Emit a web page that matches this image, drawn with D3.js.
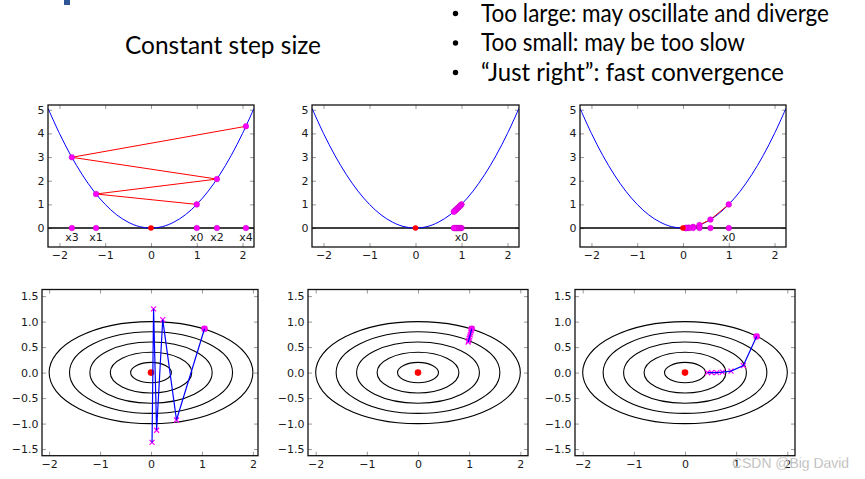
<!DOCTYPE html>
<html><head><meta charset="utf-8">
<script src="https://cdn.jsdelivr.net/npm/d3@7"></script>
<style>html,body{margin:0;padding:0;background:#fff;}svg{display:block;}</style>
</head><body>
<script>
// ---------- data ----------
const titleText = "Constant step size";
const bullets = ["Too large: may oscillate and diverge", "Too small: may be too slow", "\u201CJust right\u201D: fast convergence"];
const watermark = "CSDN @Big David";

// parabola f(x)=x^2 sample points
const curveX = [-2.25,-2,-1.75,-1.5,-1.25,-1,-0.75,-0.5,-0.25,0,0.25,0.5,0.75,1,1.25,1.5,1.75,2,2.25];
const curveY = [5.06,4,3.06,2.25,1.56,1,0.56,0.25,0.06,0,0.06,0.25,0.56,1,1.56,2.25,3.06,4,5.06];

const topXTicks = [-2,-1,0,1,2];
const topYTicks = [0,1,2,3,4,5];
const botXTicks = [-2,-1,0,1,2];
const botYTicks = [-1.5,-1.0,-0.5,0.0,0.5,1.0,1.5];

// 1-D gradient descent iterates (top row)
const largeX = [1, -1.2, 1.44, -1.728, 2.074];
const largeY = [1, 1.44, 2.07, 2.99, 4.30];
const largeLabels = ["x0","x1","x2","x3","x4"];
const smallX = [1, 0.98, 0.96, 0.94, 0.92, 0.90, 0.885, 0.867, 0.85, 0.833];
const smallY = [1, 0.96, 0.92, 0.88, 0.85, 0.81, 0.78, 0.75, 0.72, 0.69];
const smallLabels = ["x0"];
const rightX = [1, 0.6, 0.36, 0.22, 0.13, 0.08, 0.05];
const rightY = [1, 0.36, 0.13, 0.05, 0.02, 0.01, 0.0];
const rightLabels = ["x0"];

// contour ellipses semi-axes (bottom row)
const ellipseRx = [0.4, 0.8, 1.2, 1.6, 2.0];
const ellipseRy = [0.2, 0.4, 0.6, 0.8, 1.0];

// 2-D iterates (bottom row)
const pathLargeX = [1.05, 0.50, 0.23, 0.11, 0.05, 0.02];
const pathLargeY = [0.86, -0.93, 1.04, -1.13, 1.25, -1.37];
const pathSmallX = [1.05, 1.04, 1.03, 1.02, 1.01, 1.00, 0.99, 0.98];
const pathSmallY = [0.86, 0.82, 0.78, 0.74, 0.70, 0.67, 0.63, 0.60];
const pathRightX = [1.40, 1.14, 0.90, 0.73, 0.62, 0.52, 0.44];
const pathRightY = [0.71, 0.14, 0.03, 0.01, 0.0, 0.0, 0.0];

// ---------- drawing ----------
const W = 865, H = 479;
const svg = d3.select("body").append("svg").attr("width", W).attr("height", H);
const defs = svg.append("defs");

// slide decoration at top-left
svg.append("rect").attr("x", 64).attr("y", 0).attr("width", 6).attr("height", 5).attr("fill", "#2F5597");

svg.append("text").attr("x", 125).attr("y", 54).attr("font-family", "Lato, 'Open Sans', sans-serif")
  .attr("font-size", 24.5).attr("fill", "#000").attr("textLength", 196).attr("lengthAdjust", "spacingAndGlyphs")
  .text(titleText);

const bulletBase = [21.5, 51, 80.5];
const bulletWidths = [348, 264, 303];
bullets.forEach((b, i) => {
  svg.append("circle").attr("cx", 455.5).attr("cy", bulletBase[i] - 8).attr("r", 2.7).attr("fill", "#000");
  svg.append("text").attr("x", 481).attr("y", bulletBase[i]).attr("font-family", "Lato, 'Open Sans', sans-serif")
    .attr("font-size", 24.5).attr("fill", "#000").attr("textLength", bulletWidths[i]).attr("lengthAdjust", "spacingAndGlyphs")
    .text(b);
});

const tickFont = "DejaVu Sans";
const tickFS = 11;
const minus = s => s.replace("-", "\u2212");

function frame(g, x, y, xt, yt, yfmt, id) {
  const [x0, x1] = x.range(), [y1, y0] = y.range();
  defs.append("clipPath").attr("id", id).append("rect").attr("x", x0).attr("y", y0).attr("width", x1 - x0).attr("height", y1 - y0);
  const gb = g.append("g").attr("transform", `translate(0,${y1})`)
    .call(d3.axisBottom(x).tickValues(xt).tickSizeInner(-4).tickSizeOuter(0).tickPadding(4.5).tickFormat(d => minus(d3.format("d")(d))));
  const gt = g.append("g").attr("transform", `translate(0,${y0})`)
    .call(d3.axisTop(x).tickValues(xt).tickSizeInner(-4).tickSizeOuter(0).tickFormat(""));
  const gl = g.append("g").attr("transform", `translate(${x0},0)`)
    .call(d3.axisLeft(y).tickValues(yt).tickSizeInner(-4).tickSizeOuter(0).tickPadding(3.5).tickFormat(d => minus(yfmt(d))));
  const gr = g.append("g").attr("transform", `translate(${x1},0)`)
    .call(d3.axisRight(y).tickValues(yt).tickSizeInner(-4).tickSizeOuter(0).tickFormat(""));
  [gb, gt, gl, gr].forEach(a => {
    a.select(".domain").remove();
    a.selectAll("line").attr("stroke", "#999").attr("stroke-width", 1);
    a.selectAll("text").attr("font-family", tickFont).attr("font-size", tickFS).attr("fill", "#1a1a1a");
  });
}
function border(g, x, y) {
  const [x0, x1] = x.range(), [y1, y0] = y.range();
  g.append("rect").attr("x", x0).attr("y", y0).attr("width", x1 - x0).attr("height", y1 - y0)
    .attr("fill", "none").attr("stroke", "#111").attr("stroke-width", 1.3);
}

// top row
const topPanels = [
  {r: [48, 254], xs: largeX, ys: largeY, labels: largeLabels, labelIdx: [0,1,2,3,4]},
  {r: [312, 519], xs: smallX, ys: smallY, labels: smallLabels, labelIdx: [0]},
  {r: [580, 786], xs: rightX, ys: rightY, labels: rightLabels, labelIdx: [0]}
];
topPanels.forEach((p, i) => {
  const g = svg.append("g");
  const x = d3.scaleLinear().domain([-2.25, 2.25]).range(p.r);
  const y = d3.scaleLinear().domain([-0.8, 5.2]).range([247, 105]);
  const id = "ct" + i;
  frame(g, x, y, topXTicks, topYTicks, d3.format("d"), id);
  const c = g.append("g").attr("clip-path", `url(#${id})`);
  c.append("line").attr("x1", p.r[0]).attr("x2", p.r[1]).attr("y1", y(0)).attr("y2", y(0)).attr("stroke", "#000").attr("stroke-width", 1.6);
  const line = d3.line().x(d => x(d[0])).y(d => y(d[1])).curve(d3.curveCatmullRom);
  c.append("path").attr("d", line(curveX.map((v, k) => [v, curveY[k]]))).attr("fill", "none").attr("stroke", "#0000ff").attr("stroke-width", 1);
  const pts = p.xs.map((v, k) => [v, p.ys[k]]);
  c.append("path").attr("d", d3.line().x(d => x(d[0])).y(d => y(d[1]))(pts)).attr("fill", "none").attr("stroke", "#ff0000").attr("stroke-width", 1);
  pts.forEach(d => {
    c.append("circle").attr("cx", x(d[0])).attr("cy", y(d[1])).attr("r", 2.8).attr("fill", "#ff00ff").attr("stroke", "#c000c0").attr("stroke-width", 0.5);
    c.append("circle").attr("cx", x(d[0])).attr("cy", y(0)).attr("r", 2.8).attr("fill", "#ff00ff").attr("stroke", "#c000c0").attr("stroke-width", 0.5);
  });
  c.append("circle").attr("cx", x(0)).attr("cy", y(0)).attr("r", 2.8).attr("fill", "#ff0000");
  p.labelIdx.forEach((k, j) => {
    g.append("text").attr("x", x(p.xs[k])).attr("y", y(-0.4)).attr("dy", "0.35em").attr("text-anchor", "middle")
      .attr("font-family", tickFont).attr("font-size", tickFS).attr("fill", "#1a1a1a").text(p.labels[j]);
  });
  border(g, x, y);
});

// bottom row
const botPanels = [
  {r: [42, 258], d: [-2.14, 2.10], xs: pathLargeX, ys: pathLargeY},
  {r: [308, 528], d: [-2.15, 2.15], xs: pathSmallX, ys: pathSmallY},
  {r: [575, 795], d: [-2.15, 2.15], xs: pathRightX, ys: pathRightY}
];
botPanels.forEach((p, i) => {
  const g = svg.append("g");
  const x = d3.scaleLinear().domain(p.d).range(p.r);
  const y = d3.scaleLinear().domain([-1.63, 1.63]).range([455.7, 289.5]);
  const id = "cb" + i;
  frame(g, x, y, botXTicks, botYTicks, d3.format(".1f"), id);
  const c = g.append("g").attr("clip-path", `url(#${id})`);
  ellipseRx.forEach((rx, k) => {
    c.append("ellipse").attr("cx", x(0)).attr("cy", y(0)).attr("rx", x(rx) - x(0)).attr("ry", y(0) - y(ellipseRy[k]))
      .attr("fill", "none").attr("stroke", "#000").attr("stroke-width", 1.1);
  });
  c.append("circle").attr("cx", x(0)).attr("cy", y(0)).attr("r", 3.3).attr("fill", "#ff0000");
  const pts = p.xs.map((v, k) => [v, p.ys[k]]);
  c.append("circle").attr("cx", x(pts[0][0])).attr("cy", y(pts[0][1])).attr("r", 3).attr("fill", "#ff00ff").attr("stroke", "#c000c0").attr("stroke-width", 0.5);
  pts.forEach(d => {
    const cx = x(d[0]), cy = y(d[1]), s = 2.5;
    c.append("path").attr("d", `M${cx - s},${cy - s}L${cx + s},${cy + s}M${cx - s},${cy + s}L${cx + s},${cy - s}`)
      .attr("stroke", "#ff00ff").attr("stroke-width", 1.2).attr("fill", "none");
  });
  c.append("path").attr("d", d3.line().x(d => x(d[0])).y(d => y(d[1]))(pts)).attr("fill", "none").attr("stroke", "#0000ff").attr("stroke-width", 1.2);
  border(g, x, y);
});

// watermark
svg.append("text").attr("x", 732).attr("y", 468).attr("font-family", "Liberation Sans, Arial, sans-serif")
  .attr("font-size", 14.5).attr("fill", "#a8a8a8").attr("stroke", "#fff").attr("stroke-width", 0.3)
  .attr("textLength", 117).attr("lengthAdjust", "spacingAndGlyphs").text(watermark);
</script>
</body></html>
